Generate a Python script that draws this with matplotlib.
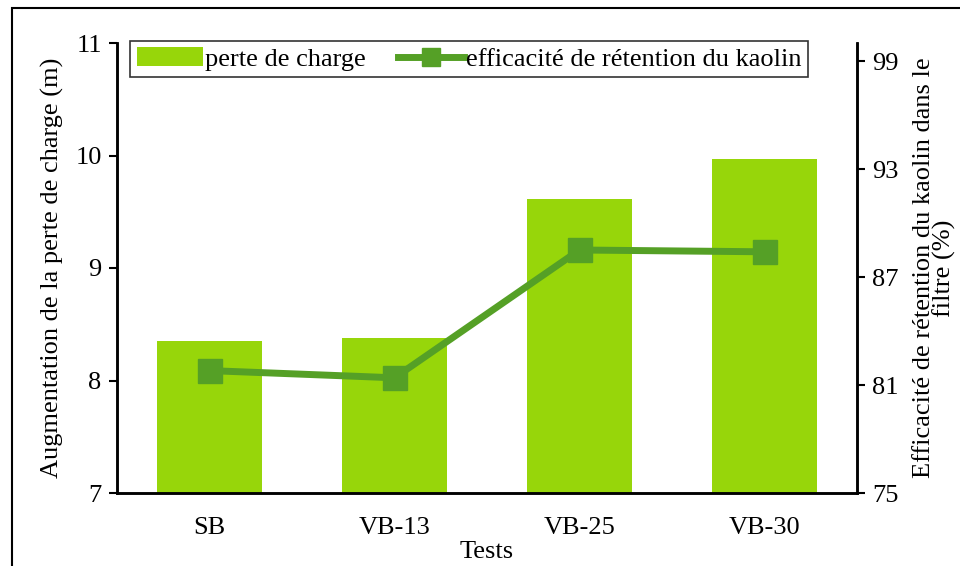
import matplotlib
matplotlib.use("Agg")
import matplotlib.pyplot as plt
from matplotlib.patches import Rectangle

categories = ["SB", "VB-13", "VB-25", "VB-30"]
perte_charge = [8.35, 8.38, 9.61, 9.97]
efficacite = [81.8, 81.4, 88.5, 88.4]
left_ticks = [7, 8, 9, 10, 11]
right_ticks = [75, 81, 87, 93, 99]

plt.rcParams['font.family'] = ['Liberation Serif', 'DejaVu Serif']
FS = 19
plt.rcParams['font.size'] = FS

bar_color = "#97d60a"
line_color = "#55a026"

fig = plt.figure(figsize=(9.6, 5.66), dpi=100)
ax = fig.add_axes([117/960, 1-493/566, (857-117)/960, (493-43)/566])
x = list(range(len(categories)))
bars = ax.bar(x, [v - 7 for v in perte_charge], bottom=7, width=0.57, color=bar_color,
              label="perte de charge", zorder=2)
ax.set_ylim(7, 11)
ax.set_xlim(-0.5, 3.5)
ax.set_yticks(left_ticks)
ax.set_xticks(x)
ax.set_xticklabels(categories)
ax.tick_params(axis='x', length=0, pad=17, labelsize=FS)
ax.tick_params(axis='y', direction='out', length=6, width=1.5, labelsize=FS, pad=5)
ax.spines['top'].set_visible(False)
for s in ['left', 'right', 'bottom']:
    ax.spines[s].set_linewidth(1.8)
ax.set_ylabel("Augmentation de la perte de charge (m)", fontsize=FS, labelpad=8)
ax.set_xlabel("Tests", fontsize=FS, labelpad=2)

ax2 = ax.twinx()
ax2.set_ylim(75, 100)
ax2.set_yticks(right_ticks)
line, = ax2.plot(x, efficacite, color=line_color, lw=5, marker='s', markersize=17,
                 label="efficacité de rétention du kaolin", zorder=3)
ax2.spines['top'].set_visible(False)
for s in ['left', 'right', 'bottom']:
    ax2.spines[s].set_linewidth(1.8)
ax2.tick_params(axis='y', direction='out', length=6, width=1.5, labelsize=FS, pad=5)
ax2.set_ylabel("Efficacité de rétention du kaolin dans le\nfiltre (%)", fontsize=FS,
               linespacing=0.9, labelpad=10)

leg = ax2.legend([bars, line], ["perte de charge", "efficacité de rétention du kaolin"],
                 ncol=2, loc='upper left', bbox_to_anchor=(13/740, 1.005),
                 frameon=True, fancybox=False, edgecolor='black', fontsize=FS,
                 handlelength=2.5, handletextpad=0.1, columnspacing=1.2,
                 borderpad=0.25, borderaxespad=0, markerscale=0.75)
leg.get_frame().set_linewidth(1.2)

fig.patches.append(Rectangle((12/960, -0.1), 1.2, 1 - 8/566 + 0.1, transform=fig.transFigure,
                             fill=False, edgecolor='black', linewidth=1.5))

fig.savefig("out.png", dpi=100)
